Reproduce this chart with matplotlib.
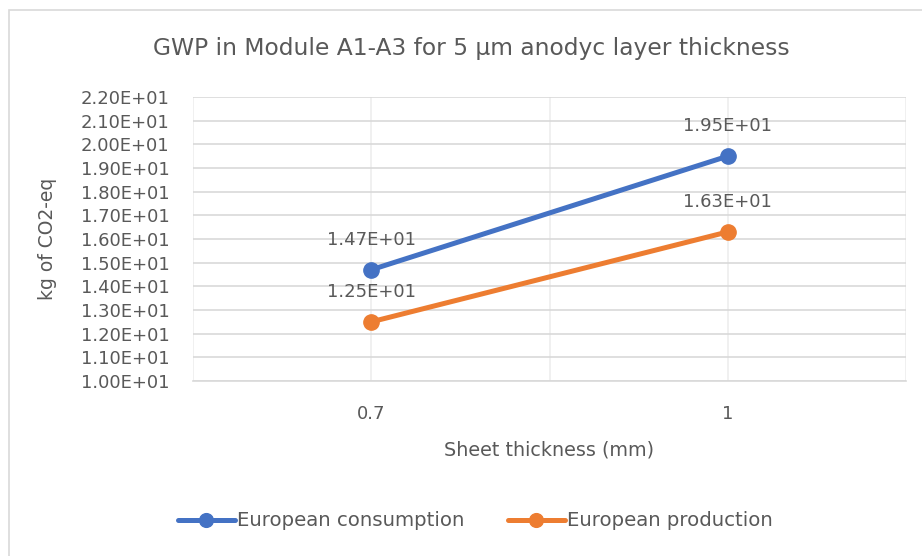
import matplotlib.pyplot as plt
from matplotlib.patches import Rectangle

categories = ["0.7", "1"]
consumption = [14.7, 19.5]
production = [12.5, 16.3]
y_ticks = [10, 11, 12, 13, 14, 15, 16, 17, 18, 19, 20, 21, 22]

BLUE = "#4472C4"
ORANGE = "#ED7D31"
TEXT = "#595959"
GRID = "#D9D9D9"

plt.rcParams["font.family"] = ["DejaVu Sans"]

fig = plt.figure(figsize=(9.22, 5.56), dpi=100)
# chart frame (cropped at the right and bottom)
fig.patches.append(Rectangle((9 / 922, -0.1), 1.2, 1 - 10 / 556 + 0.1,
                             transform=fig.transFigure, fill=False,
                             edgecolor=GRID, linewidth=1.2))

ax = fig.add_axes([193 / 922, 1 - 381 / 556, 713 / 922, 284 / 556])
x = list(range(len(categories)))

ax.plot(x, consumption, color=BLUE, lw=3.6, marker="o", ms=11,
        label="European consumption", solid_capstyle="round", zorder=3)
ax.plot(x, production, color=ORANGE, lw=3.6, marker="o", ms=11,
        label="European production", solid_capstyle="round", zorder=3)

for series in (consumption, production):
    for xi, v in zip(x, series):
        ax.annotate(f"{v:.2E}", (xi, v), xytext=(0, 15), textcoords="offset points",
                    ha="center", va="bottom", fontsize=13, color=TEXT)

ax.set_xlim(-0.5, 1.5)
ax.set_ylim(10, 22)
ax.set_yticks(y_ticks)
ax.set_yticklabels([f"{t:.2E}" for t in y_ticks])
ax.set_xticks(x)
ax.set_xticklabels(categories)
ax.set_xticks([-0.5, 0.5, 1.5], minor=True)

ax.grid(True, axis="y", color=GRID, lw=1.2)
ax.grid(True, axis="x", which="both", color="#EDEDED", lw=1.2)
ax.set_axisbelow(True)
for side in ("top", "left", "right"):
    ax.spines[side].set_visible(False)
ax.spines["bottom"].set_color(GRID)
ax.spines["bottom"].set_linewidth(1.2)
ax.tick_params(axis="both", which="both", length=0, labelsize=13, labelcolor=TEXT)
ax.tick_params(axis="x", pad=17)
ax.tick_params(axis="y", pad=17)

ax.set_xlabel("Sheet thickness (mm)", fontsize=13.8, color=TEXT, labelpad=13)
ax.set_ylabel("kg of CO2-eq", fontsize=13.5, color=TEXT, labelpad=17)

fig.text(471 / 922, 1 - 48 / 556, "GWP in Module A1-A3 for 5 µm anodyc layer thickness",
         ha="center", va="center", fontsize=16.8, color=TEXT)

fig.legend(loc="center", bbox_to_anchor=(475 / 922, 1 - 521 / 556), ncol=2,
           frameon=False, fontsize=14.2, labelcolor=TEXT, handlelength=2.9,
           handletextpad=0.1, columnspacing=2.2, markerscale=0.9)

fig.savefig("out.png", dpi=100)
